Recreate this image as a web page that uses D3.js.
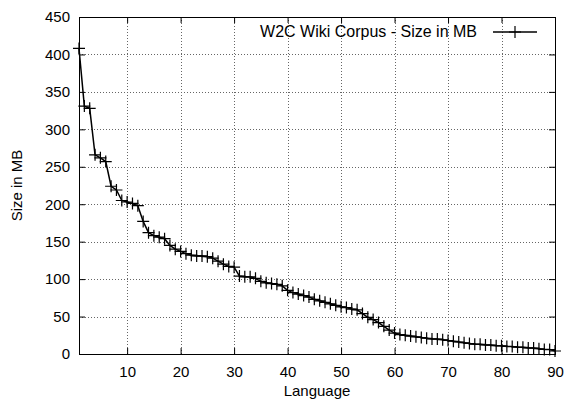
<!DOCTYPE html>
<html lang="en">
<head>
<meta charset="utf-8" />
<title>W2C Wiki Corpus</title>
<script src="https://cdn.jsdelivr.net/npm/d3@7"></script>
<style>
  body { margin: 0; background: #fff; }
  text { font-family: "Liberation Sans", Arial, sans-serif; font-size: 15px; fill: #000; }
</style>
</head>
<body>
<script>
// language rank (1..90) and corpus size in MB
var sizes = [408, 331, 328, 266, 262, 257, 224, 219, 205, 203,
             201, 198, 177, 162, 158, 156, 154, 145, 140, 137,
             134, 132, 131, 131, 130, 128, 124, 120, 117, 116,
             104, 103, 103, 101, 97, 95, 94, 93, 91, 85,
             82, 80, 78, 76, 73, 71, 69, 67, 65, 63,
             62, 60, 59, 54, 49, 46, 42, 37, 32, 28,
             26, 25, 24, 23, 22, 21, 20, 20, 19, 18,
             17, 16, 15, 14, 13, 13, 12, 12, 11, 11,
             10, 10, 9, 9, 8, 8, 7, 6, 6, 4];
var languages = d3.range(1, sizes.length + 1);
var xTicks = [10, 20, 30, 40, 50, 60, 70, 80, 90];
var yTicks = [0, 50, 100, 150, 200, 250, 300, 350, 400, 450];
var seriesName = "W2C Wiki Corpus - Size in MB";

var width = 564, height = 399;
var plotL = 79, plotR = 555, plotT = 17, plotB = 354;

var svg = d3.select("body").append("svg")
  .attr("width", width)
  .attr("height", height);

var x = d3.scaleLinear().domain([1, 90]).range([plotL, plotR]);
var y = d3.scaleLinear().domain([0, 450]).range([plotB, plotT]);

// grid (dotted)
var grid = svg.append("g").attr("stroke", "#666").attr("stroke-width", 1).attr("stroke-dasharray", "1,2");
grid.selectAll("line.gx").data(xTicks.filter(function (d) { return d < 90; })).enter().append("line")
  .attr("x1", function (d) { return Math.round(x(d)) + 0.5; })
  .attr("x2", function (d) { return Math.round(x(d)) + 0.5; })
  .attr("y1", plotT).attr("y2", plotB);
grid.selectAll("line.gy").data(yTicks.filter(function (d) { return d > 0 && d < 450; })).enter().append("line")
  .attr("y1", function (d) { return Math.round(y(d)) + 0.5; })
  .attr("y2", function (d) { return Math.round(y(d)) + 0.5; })
  .attr("x1", plotL).attr("x2", plotR);

// axes, ticks pointing inward, mirrored on top/right
function noDomain(g) {
  g.select(".domain").remove();
  g.attr("font-family", null).attr("font-size", null);
}

svg.append("g")
  .attr("transform", "translate(0," + plotB + ")")
  .call(d3.axisBottom(x).tickValues(xTicks).tickSize(-6).tickPadding(12).tickFormat(d3.format("d")))
  .call(noDomain);
svg.append("g")
  .attr("transform", "translate(0," + plotT + ")")
  .call(d3.axisTop(x).tickValues(xTicks).tickSize(-6).tickFormat(""))
  .call(noDomain);
svg.append("g")
  .attr("transform", "translate(" + plotL + ",0)")
  .call(d3.axisLeft(y).tickValues(yTicks).tickSize(-6).tickPadding(9).tickFormat(d3.format("d")))
  .call(noDomain);
svg.append("g")
  .attr("transform", "translate(" + plotR + ",0)")
  .call(d3.axisRight(y).tickValues(yTicks).tickSize(-6).tickFormat(""))
  .call(noDomain);

svg.append("rect")
  .attr("x", plotL + 0.5).attr("y", plotT + 0.5)
  .attr("width", plotR - plotL).attr("height", plotB - plotT)
  .attr("fill", "none").attr("stroke", "#000").attr("stroke-width", 1);

// series line
var line = d3.line()
  .x(function (d, i) { return x(languages[i]); })
  .y(function (d) { return y(d); });

svg.append("path")
  .datum(sizes)
  .attr("d", line)
  .attr("fill", "none")
  .attr("stroke", "#000")
  .attr("stroke-width", 1.5);

// "+" markers
var m = 6;
var marks = svg.append("g").attr("stroke", "#000").attr("stroke-width", 1.2);
marks.selectAll("path").data(sizes).enter().append("path")
  .attr("d", function (d, i) {
    var px = x(languages[i]), py = y(d);
    return "M" + (px - m) + "," + py + "H" + (px + m) + "M" + px + "," + (py - m) + "V" + (py + m);
  });

// legend
svg.append("text")
  .attr("x", 477).attr("y", 37)
  .attr("text-anchor", "end")
  .style("font-size", "16px")
  .text(seriesName);
svg.append("line")
  .attr("x1", 493).attr("x2", 537).attr("y1", 32).attr("y2", 32)
  .attr("stroke", "#000").attr("stroke-width", 1.5);
svg.append("path")
  .attr("d", "M" + (515 - m) + ",32H" + (515 + m) + "M515," + (32 - m) + "V" + (32 + m))
  .attr("stroke", "#000").attr("stroke-width", 1.2);

// axis titles
svg.append("text")
  .attr("x", (plotL + plotR) / 2).attr("y", 396)
  .attr("text-anchor", "middle")
  .text("Language");
svg.append("text")
  .attr("transform", "translate(22," + ((plotT + plotB) / 2) + ") rotate(-90)")
  .attr("text-anchor", "middle")
  .text("Size in MB");
</script>
</body>
</html>
